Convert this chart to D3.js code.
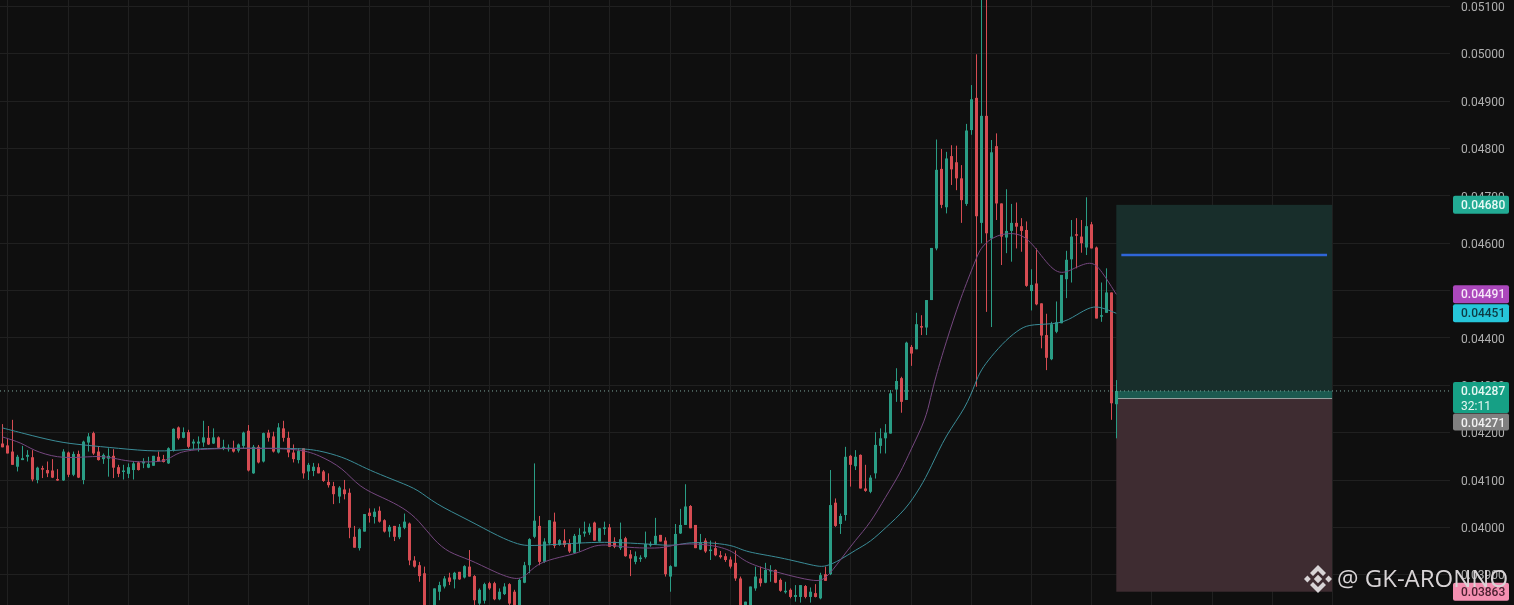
<!DOCTYPE html>
<html>
<head>
<meta charset="utf-8">
<script src="https://cdn.jsdelivr.net/npm/d3@7"></script>
<style>
  html, body { margin: 0; padding: 0; background: #0f0f0f; overflow: hidden; }
  svg { display: block; filter: blur(0.4px); }
</style>
</head>
<body>
<div id="app"></div>
<script>
// prices are in 1e-5 units, so 4287 is 0.04287
const opens = [
  4176,4172,4159,4127,4141,4148,4147,4099,4124,4120,
  4119,4101,4098,4157,4110,4154,4099,4178,4198,4159,
  4143,4144,4150,4126,4117,4112,4120,4136,4134,4125,
  4129,4148,4143,4134,4161,4210,4188,4200,4176,4176,
  4178,4188,4176,4189,4167,4166,4166,4161,4171,4203,
  4113,4169,4138,4199,4191,4157,4208,4188,4157,4141,
  4166,4117,4118,4126,4117,4095,4086,4064,4079,4072,
  3979,3955,3990,4030,4021,4034,4014,3990,4002,3978,
  3998,4007,3929,3919,3902,3830,3828,3863,3874,3893,
  3889,3905,3893,3916,3896,3838,3844,3881,3881,3847,
  3858,3879,3863,3832,3882,3919,3979,4002,3926,3965,
  4011,3962,3971,3965,3945,3965,3986,3988,4009,3969,
  3997,3999,3969,3955,3976,3942,3926,3933,3936,3962,
  3964,3983,3971,3895,3916,3986,4004,4044,4004,3952,
  3971,3951,3955,3940,3938,3931,3924,3891,3825,3830,
  3870,3891,3882,3907,3909,3888,3863,3867,3852,3852,
  3875,3852,3860,3849,3900,3900,4051,4006,4025,4150,
  4128,4152,4081,4074,4113,4171,4187,4197,4290,4314,
  4268,4380,4375,4424,4421,4479,4588,4756,4675,4783,
  4770,4736,4682,4838,4906,4642,4868,4609,4804,4683,
  4611,4625,4642,4635,4627,4498,4514,4472,4405,4354,
  4412,4430,4523,4565,4618,4613,4590,4639,4590,4445,
  4452,4495,4259
];
const highs = [
  4217,4187,4226,4152,4171,4162,4162,4127,4129,4138,
  4143,4122,4164,4159,4159,4161,4182,4198,4201,4169,
  4155,4166,4164,4131,4131,4134,4139,4138,4145,4148,
  4150,4159,4152,4168,4208,4212,4210,4205,4185,4191,
  4224,4213,4208,4191,4184,4174,4182,4176,4201,4215,
  4173,4173,4199,4205,4201,4219,4224,4201,4174,4166,
  4166,4135,4135,4134,4120,4113,4095,4086,4099,4081,
  4002,3997,4027,4039,4039,4043,4016,4004,4002,4006,
  4028,4009,3938,3926,3916,3832,3870,3884,3896,3903,
  3905,3905,3919,3951,3898,3870,3882,3884,3884,3870,
  3881,3881,3867,3891,3926,3976,4134,4023,3976,4014,
  4030,3974,3995,3974,3985,3997,4011,4007,4011,3997,
  4011,4006,3978,4009,3979,3951,3948,3940,3990,3969,
  4019,3983,3978,3919,4006,4038,4090,4046,4004,3985,
  3976,3971,3969,3949,3944,3937,3950,3895,3842,3874,
  3916,3916,3924,3919,3910,3891,3884,3870,3877,3877,
  3877,3872,3879,3903,3916,4120,4060,4028,4169,4152,
  4162,4153,4131,4109,4200,4208,4217,4289,4335,4317,
  4391,4384,4452,4447,4479,4589,4818,4798,4792,4806,
  4805,4764,4851,4933,4998,5130,5130,4817,4831,4683,
  4713,4682,4685,4652,4645,4544,4588,4472,4450,4433,
  4476,4532,4583,4648,4652,4648,4696,4644,4592,4516,
  4546,4495,4310
];
const lows = [
  4168,4155,4131,4117,4141,4138,4096,4092,4103,4105,
  4103,4097,4097,4105,4107,4103,4090,4159,4152,4140,
  4133,4106,4103,4105,4100,4103,4100,4119,4124,4124,
  4129,4138,4136,4133,4159,4184,4187,4166,4164,4159,
  4169,4173,4175,4166,4162,4159,4157,4157,4166,4117,
  4112,4134,4136,4180,4157,4155,4180,4147,4136,4134,
  4102,4099,4107,4113,4095,4083,4048,4050,4058,3976,
  3956,3950,3990,4009,4007,4009,3988,3978,3970,3974,
  3995,3919,3914,3884,3825,3815,3822,3845,3870,3877,
  3870,3888,3891,3895,3835,3835,3838,3867,3845,3845,
  3856,3835,3830,3828,3881,3902,3976,3919,3924,3962,
  3955,3960,3957,3945,3944,3948,3979,3983,3971,3969,
  3983,3958,3955,3951,3937,3896,3921,3926,3933,3958,
  3962,3969,3895,3863,3916,3985,4004,3997,3955,3951,
  3945,3930,3938,3933,3926,3912,3886,3830,3820,3826,
  3865,3874,3881,3884,3881,3863,3859,3849,3842,3840,
  3849,3840,3851,3847,3886,3898,4000,3985,4013,4085,
  4120,4081,4074,4071,4102,4155,4155,4197,4264,4241,
  4268,4340,4375,4405,4405,4479,4584,4673,4662,4722,
  4711,4642,4678,4828,4296,4599,4454,4422,4648,4553,
  4578,4560,4588,4581,4507,4457,4468,4377,4331,4352,
  4409,4430,4483,4516,4546,4579,4574,4588,4440,4433,
  4452,4226,4187
];
const closes = [
  4168,4155,4131,4148,4145,4152,4100,4125,4122,4113,
  4104,4098,4159,4110,4154,4104,4180,4191,4155,4141,
  4152,4150,4125,4112,4119,4126,4134,4120,4138,4133,
  4150,4138,4137,4166,4207,4187,4200,4169,4180,4180,
  4189,4174,4189,4167,4169,4167,4159,4174,4199,4119,
  4169,4136,4198,4188,4159,4210,4188,4157,4143,4160,
  4113,4131,4127,4113,4097,4088,4069,4083,4069,3998,
  3956,3995,4027,4023,4032,4011,3990,4000,3979,4000,
  4011,3929,3916,3896,3835,3822,3870,3877,3891,3884,
  3903,3889,3917,3895,3845,3867,3879,3870,3847,3863,
  3874,3838,3835,3888,3919,3974,4013,3926,3969,4014,
  3960,3972,3962,3948,3981,3983,3990,4000,3971,3997,
  3999,3958,3958,3974,3938,3933,3938,3935,3964,3964,
  3981,3969,3900,3917,3985,4004,4043,3997,3955,3966,
  3948,3952,3940,3936,3930,3916,3891,3835,3842,3874,
  3895,3881,3909,3909,3882,3865,3865,3852,3856,3877,
  3852,3863,3852,3898,3886,4046,4002,4023,4148,4131,
  4148,4081,4076,4104,4173,4187,4199,4282,4308,4264,
  4389,4366,4428,4421,4479,4589,4754,4680,4778,4755,
  4736,4690,4837,4903,4656,4868,4620,4791,4683,4613,
  4625,4642,4634,4625,4509,4511,4470,4404,4357,4428,
  4432,4532,4564,4613,4616,4599,4635,4588,4440,4447,
  4495,4261,4287
];

// moving averages at a few candles
const slow_ma_idx = [0,4,11,16,23,31,37,42,49,59,63,68,71,74,79,83,86,93,99,103,105,109,115,120,125,131,134,137,142,146,148,155,162,164,167,170,173,176,180,183,185,188,192,194,195,197,200,203,205,211,214,217,219,222];
const slow_ma_val = [4209,4198,4179,4173,4166,4158,4164,4166,4166,4166,4162,4147,4131,4116,4095,4078,4050,4014,3979,3962,3960,3962,3966,3968,3966,3962,3960,3968,3966,3960,3947,3936,3917,3915,3930,3951,3968,3998,4036,4084,4124,4194,4251,4306,4331,4359,4395,4420,4428,4428,4447,4466,4464,4451];
const fast_ma_idx = [0,4,6,11,16,20,23,26,31,33,35,39,46,59,63,68,71,76,80,83,86,89,93,98,103,105,107,111,115,118,121,124,128,132,135,142,146,148,155,162,164,167,170,173,176,179,181,184,185,186,188,191,194,195,198,203,206,210,213,217,219,222];
const fast_ma_val = [4190,4177,4162,4145,4147,4150,4143,4137,4137,4141,4158,4164,4166,4166,4152,4124,4084,4061,4040,4014,3972,3945,3932,3905,3884,3905,3924,3936,3945,3962,3962,3957,3955,3955,3966,3962,3947,3924,3902,3884,3888,3930,3972,4008,4063,4114,4162,4226,4274,4316,4388,4485,4564,4591,4618,4623,4589,4530,4542,4564,4542,4491];

const price_ticks = [5100,5000,4900,4800,4700,4600,4500,4400,4300,4200,4100,4000,3900];

const target_price = 4680;
const entry_price = 4271;
const stop_price = 3863;
const last_price = 4287;
const mid_price = 4574;
const tool_start = 222;
const tool_end = 265;

const WIDTH = 1514;
const HEIGHT = 605;
const PANE_W = 1450;

const x_scale = d3.scaleLinear().domain([0, 222]).range([2.3, 1116.3]);
const y_scale = d3.scaleLinear().domain([5100, 3900]).range([6, 574.2]);

const UP = '#2a9d85';
const DOWN = '#d64c52';
const fmt = d => (d / 1e5).toFixed(5);

const svg = d3.select('#app').append('svg')
  .attr('width', WIDTH)
  .attr('height', HEIGHT)
  .attr('viewBox', [0, 0, WIDTH, HEIGHT]);

svg.append('rect').attr('width', WIDTH).attr('height', HEIGHT).attr('fill', '#0f0f0f');

// grid, one vertical every 12 candles
const grid = svg.append('g').attr('stroke', '#202020').attr('stroke-width', 1);
grid.selectAll('line.h').data(price_ticks).join('line')
  .attr('class', 'h')
  .attr('x1', 0).attr('x2', PANE_W)
  .attr('y1', d => Math.round(y_scale(d)) + 0.5)
  .attr('y2', d => Math.round(y_scale(d)) + 0.5);
grid.selectAll('line.v').data(d3.range(1, 277, 12)).join('line')
  .attr('class', 'v')
  .attr('y1', 0).attr('y2', HEIGHT)
  .attr('x1', d => Math.round(x_scale(d)) + 0.5)
  .attr('x2', d => Math.round(x_scale(d)) + 0.5);

// long position tool
const tool_x = x_scale(tool_start);
const tool_w = x_scale(tool_end) - tool_x;
const tool = svg.append('g');
tool.append('rect')
  .attr('x', tool_x).attr('width', tool_w)
  .attr('y', y_scale(target_price))
  .attr('height', y_scale(entry_price) - y_scale(target_price))
  .attr('fill', '#182e2b');
tool.append('rect')
  .attr('x', tool_x).attr('width', tool_w)
  .attr('y', y_scale(entry_price))
  .attr('height', y_scale(stop_price) - y_scale(entry_price))
  .attr('fill', '#3e2c31');
tool.append('rect')
  .attr('x', tool_x).attr('width', tool_w)
  .attr('y', y_scale(last_price))
  .attr('height', y_scale(entry_price) - y_scale(last_price))
  .attr('fill', '#1c5a50');
tool.append('line')
  .attr('x1', tool_x).attr('x2', tool_x + tool_w)
  .attr('y1', y_scale(entry_price)).attr('y2', y_scale(entry_price))
  .attr('stroke', '#9aa5a3').attr('stroke-width', 1);

// candles
const candles = svg.append('g');
candles.selectAll('line').data(opens).join('line')
  .attr('x1', (d, i) => Math.round(x_scale(i)) + 0.5)
  .attr('x2', (d, i) => Math.round(x_scale(i)) + 0.5)
  .attr('y1', (d, i) => y_scale(highs[i]))
  .attr('y2', (d, i) => y_scale(lows[i]))
  .attr('stroke', (d, i) => closes[i] >= d ? UP : DOWN)
  .attr('stroke-width', 1);
candles.selectAll('rect').data(opens).join('rect')
  .attr('x', (d, i) => Math.round(x_scale(i)) - 1)
  .attr('width', 3)
  .attr('y', (d, i) => y_scale(Math.max(d, closes[i])))
  .attr('height', (d, i) => Math.max(1.5, Math.abs(y_scale(d) - y_scale(closes[i]))))
  .attr('fill', (d, i) => closes[i] >= d ? UP : DOWN);

// moving averages
const ma_line = d3.line()
  .x(d => x_scale(d[0]))
  .y(d => y_scale(d[1]))
  .curve(d3.curveBasis);
svg.append('path')
  .attr('d', ma_line(d3.zip(slow_ma_idx, slow_ma_val)))
  .attr('fill', 'none').attr('stroke', '#3a8c97').attr('stroke-width', 1);
svg.append('path')
  .attr('d', ma_line(d3.zip(fast_ma_idx, fast_ma_val)))
  .attr('fill', 'none').attr('stroke', '#75477f').attr('stroke-width', 1);

// blue mid line in the position tool
svg.append('line')
  .attr('x1', x_scale(223)).attr('x2', x_scale(264))
  .attr('y1', y_scale(mid_price)).attr('y2', y_scale(mid_price))
  .attr('stroke', '#2f66d8').attr('stroke-width', 2.5);

// last price dotted line
svg.append('line')
  .attr('x1', 0).attr('x2', PANE_W)
  .attr('y1', y_scale(last_price)).attr('y2', y_scale(last_price))
  .attr('stroke', '#7fa89e').attr('stroke-width', 1)
  .attr('stroke-dasharray', '1 3');

// price axis
const axis = svg.append('g')
  .attr('transform', `translate(1461,0.8)`)
  .call(d3.axisRight(y_scale).tickValues(price_ticks).tickFormat(fmt).tickSize(0).tickPadding(0));
axis.select('.domain').remove();
axis.selectAll('text')
  .attr('fill', '#b0b0b0')
  .style('font-family', 'Roboto, sans-serif')
  .style('font-size', '12px');

// coloured price tags
function tag(y, h, fill, color, lines) {
  const g = svg.append('g');
  g.append('rect')
    .attr('x', 1453).attr('width', 56)
    .attr('y', y).attr('height', h)
    .attr('rx', 2)
    .attr('fill', fill);
  lines.forEach((t, i) => {
    g.append('text')
      .attr('x', 1461).attr('y', y + 13 + i * 15)
      .attr('fill', color)
      .style('font-family', 'Roboto, sans-serif')
      .style('font-size', '12px')
      .style('font-weight', i === 0 ? 500 : 400)
      .text(t);
  });
}
tag(y_scale(4680) - 9, 18, '#22ab94', '#eafaf6', [fmt(4680)]);
tag(y_scale(4491) - 9, 18, '#ab47bc', '#f6e6f8', [fmt(4491)]);
tag(y_scale(4451) - 9, 18, '#26c6da', '#0d3a44', [fmt(4451)]);
tag(y_scale(last_price) - 9, 31, '#16a085', '#e6f7f3', [fmt(last_price), '32:11']);
tag(y_scale(entry_price) + 15, 17, '#808080', '#f2f2f2', [fmt(entry_price)]);
tag(y_scale(stop_price) - 9, 18, '#f48fb1', '#4a2030', [fmt(stop_price)]);

// watermark
const mark = svg.append('g').attr('transform', 'translate(1318,579)').attr('fill', '#d8d4d6');
mark.append('path').attr('d', 'M0,-4.2L4.2,0L0,4.2L-4.2,0Z');
mark.append('path').attr('d', 'M-14,0L-10.6,-3.4L-7.2,0L-10.6,3.4Z');
mark.append('path').attr('d', 'M14,0L10.6,-3.4L7.2,0L10.6,3.4Z');
mark.append('path').attr('d', 'M0,-14L8,-6L5,-3L0,-8L-5,-3L-8,-6Z');
mark.append('path').attr('d', 'M0,14L8,6L5,3L0,8L-5,3L-8,6Z');
svg.append('text')
  .attr('x', 1337).attr('y', 587)
  .attr('fill', '#d8d4d6')
  .style('font-family', '"Open Sans", sans-serif')
  .style('font-size', '24px')
  .text('@ GK-ARONNO');
</script>
</body>
</html>
